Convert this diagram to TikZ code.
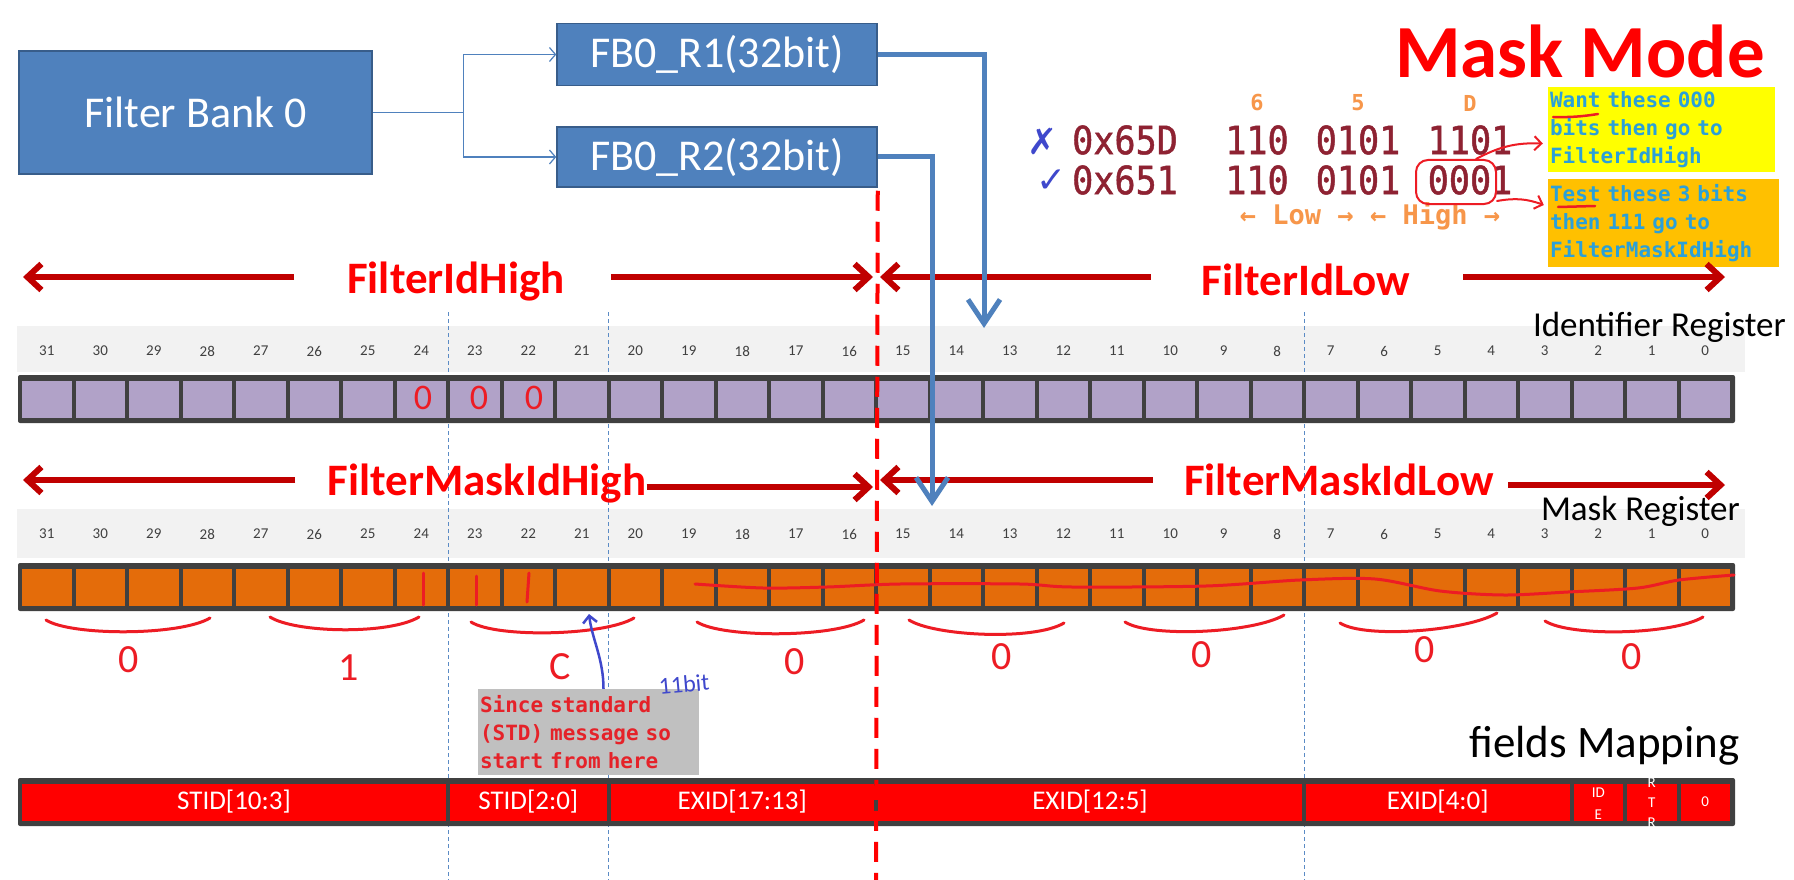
\documentclass[tikz,border=0pt]{standalone}
\usepackage{fontspec}
\setmainfont{Carlito}
\newfontfamily\codefont{DejaVu Sans Mono}
\newfontfamily\hexfont{DejaVu Sans Mono}[FakeStretch=0.9,FakeBold=1.2]
\newfontfamily\signfont{DejaVu Sans}
\usetikzlibrary{calc,arrows.meta,positioning}
\definecolor{bankblue}{HTML}{4F81BD}
\definecolor{bankedge}{HTML}{385D8A}
\definecolor{darkarrow}{HTML}{C00000}
\definecolor{idcell}{HTML}{B1A2C8}
\definecolor{maskcell}{HTML}{E46C0A}
\definecolor{fieldred}{HTML}{FF0000}
\definecolor{framegray}{HTML}{404040}
\definecolor{bandgray}{HTML}{F2F2F2}
\definecolor{bitgray}{HTML}{404040}
\definecolor{hexred}{HTML}{8E2232}
\definecolor{hexorange}{HTML}{F7964A}
\definecolor{tipcyan}{HTML}{2BA0D8}
\definecolor{notered}{HTML}{E52229}
\definecolor{notegray}{HTML}{C0C0C0}
\definecolor{boxyellow}{HTML}{FFFF00}
\definecolor{boxorange}{HTML}{FFC000}
\definecolor{penred}{HTML}{ED1C24}
\definecolor{penblue}{HTML}{3F48CC}
\definecolor{guideblue}{HTML}{5B8BC5}

\begin{document}
\begin{tikzpicture}[x=1pt,y=-1pt,every node/.style={align=center,inner sep=0pt},
  bankbox/.style={draw=bankedge,line width=1.5pt,fill=bankblue,text=white,font=\fontsize{44}{50}\selectfont},
  banklink/.style={draw=bankblue,line width=1.2pt,-{Straight Barb[length=6pt,width=14pt]}},
  regarrow/.style={draw=bankblue,line width=5pt,-{Straight Barb[length=24pt,width=32pt]}},
  spanlabel/.style={text=red,font=\fontsize{45}{50}\selectfont\bfseries,anchor=base},
  spanarrow/.style={draw=darkarrow,line width=6pt,-{Straight Barb[length=14pt,width=26pt]}},
  bitnum/.style={text=bitgray,font=\fontsize{15}{18}\selectfont},
  fieldtext/.style={text=white,font=\fontsize{27}{30}\selectfont},
  rowname/.style={anchor=base east,font=\fontsize{35}{40}\selectfont},
  hexnum/.style={text=hexred,font=\hexfont\fontsize{39}{44}\selectfont},
  hexhint/.style={text=hexorange,font=\codefont\bfseries\fontsize{22}{26}\selectfont},
  tipbox/.style={text=tipcyan,align=left,inner xsep=2pt,font=\codefont\bfseries\fontsize{21}{28}\selectfont},
  pen/.style={draw=penred,line width=3pt,line cap=round},
  inkdigit/.style={text=penred,font=\fontsize{40}{44}\selectfont},
  cutline/.style={draw=red,line width=4pt,dash pattern=on 20pt off 11pt},
  guide/.style={draw=guideblue,line width=0.8pt,dash pattern=on 4pt off 3pt}]
\fill[white] (0,0) rectangle (1794,880);
\useasboundingbox (0,0) rectangle (1794,880);

% filter bank and its two registers
\node[bankbox,minimum width=353pt,minimum height=123pt] (bank) at (195.5,112.5) {Filter Bank 0};
\node[bankbox,minimum width=320pt,minimum height=62pt] (r1) at (717,54.5) {FB0\_R1(32bit)};
\node[bankbox,minimum width=320pt,minimum height=60pt,below=40pt of r1] (r2) {FB0\_R2(32bit)};
\draw[banklink] (bank.east) -- ++(91,0) coordinate (fork) |- (r1.west);
\draw[banklink] (fork) |- (r2.west);

% title and the two ids
\node[anchor=base,text depth=0pt,text=red,font=\fontsize{75}{80}\selectfont\bfseries] (title) at (1580,78) {Mask Mode};
\foreach \x/\d in {1257/6,1358/5,1470/D}
  \node[hexhint] (hint-\d) at (\x,103) {\d};
\node[hexnum] (bad) at (1125,140) {0x65D};
\node[hexnum] (good) at (1125,180) {0x651};
\foreach \x/\g [count=\k] in {1257/110,1358/0101,1470/1101}
  \node[hexnum] (bad-\k) at (\x,140) {\g};
\foreach \x/\g [count=\k] in {1257/110,1358/0101,1470/0001}
  \node[hexnum] (good-\k) at (\x,180) {\g};
\node[text=penblue,font=\signfont\fontsize{36}{36}\selectfont] (badmark) at (1043,141) {✗};
\node[text=penblue,font=\signfont\fontsize{36}{36}\selectfont] (goodmark) at (1052,181) {✓};
\node[hexhint,font=\codefont\bfseries\fontsize{27}{30}\selectfont] (dirs) at (1370,216) {← Low → ← High →};
\node[draw=penred,line width=2pt,rounded corners=12pt,minimum width=80pt,minimum height=44pt] (ring) at (1456,182) {};
\node[tipbox,fill=boxyellow,minimum width=227pt,minimum height=85pt,text width=223pt] (wantbox) at (1661.5,129.5) {Want these 000\\bits then go to\\FilterIdHigh};
\node[tipbox,fill=boxorange,minimum width=231pt,minimum height=88pt,text width=227pt] (testbox) at (1663.5,223) {Test these 3 bits\\then 111 go to\\FilterMaskIdHigh};
\draw[pen,line width=2pt,-{Straight Barb[length=7pt,width=14pt]}] ([xshift=20pt]ring.north) to[bend left=15] ([xshift=-5pt,yshift=-14pt]wantbox.west);
\draw[pen,line width=2pt,-{Straight Barb[length=7pt,width=14pt]}] ([yshift=4pt]ring.south east) to[bend left=15] ([xshift=-4pt,yshift=18pt]testbox.west);
\draw[pen,line width=2.5pt] (1553,117) to[bend right=5] (1598,114);
\draw[pen,line width=2.5pt] (1558,207) -- (1595,206);

% grey bands, guides, registers
\fill[bandgray] (17,326) rectangle (1745,372);
\fill[bandgray] (17,509) rectangle (1745,558);
\foreach \gx in {448,608.5,1304}
  \draw[guide] (\gx,312) -- (\gx,880);
\foreach \ry/\cellfill/\tag/\numy in {375/idcell/id/351,563/maskcell/mask/534}{
  \fill[framegray,rounded corners=2pt] (18,\ry) rectangle (1735,\ry+48);
  \foreach \i in {0,...,31}{
    \pgfmathtruncatemacro\bit{31-\i}
    \fill[\cellfill] ({20+\i*53.5+2},\ry+6) rectangle ({20+\i*53.5+51.5},\ry+43);
    \node[bitnum] (\tag-\bit) at ({20+\i*53.5+26.75},\numy) {\bit};
  }
}
\node[rowname] (idname) at (1786,336) {Identifier Register};
\node[rowname] (maskname) at (1740,520) {Mask Register};

% field mapping bar
\fill[framegray,rounded corners=2pt] (18,778) rectangle (1735,826);
\foreach \a/\b/\txt in {0/8/{STID[10:3]},8/11/{STID[2:0]},11/16/{EXID[17:13]},16/24/{EXID[12:5]},24/29/{EXID[4:0]}}{
  \fill[fieldred] ({20+\a*53.5+2},784) rectangle ({20+\b*53.5-2},821);
  \node[fieldtext] (field-\a) at ({20+(\a+\b)*26.75},802) {\txt};
}
\foreach \a in {29,30,31}
  \fill[fieldred] ({20+\a*53.5+2},784) rectangle ({20+\a*53.5+51.5},821);
\node[fieldtext,font=\fontsize{15}{22}\selectfont] (field-ide) at ({20+29.5*53.5},804) {ID\\E};
\node[fieldtext,font=\fontsize{15}{20}\selectfont] (field-rtr) at ({20+30.5*53.5},803) {R\\T\\R};
\node[fieldtext,font=\fontsize{15}{18}\selectfont] (field-zero) at ({20+31.5*53.5},802) {0};
\node[rowname,font=\fontsize{45}{50}\selectfont] (fieldname) at (1740,757) {fields Mapping};

% span labels and arrows
\node[spanlabel] (fih) at (456,293) {FilterIdHigh};
\node[spanlabel] (fil) at (1306,295) {FilterIdLow};
\node[spanlabel] (fmih) at (487,495) {FilterMaskIdHigh};
\node[spanlabel] (fmil) at (1339,495) {FilterMaskIdLow};
\coordinate (idleft) at (23,277);
\coordinate (idmid) at (873,277);
\coordinate (idmid2) at (880,277);
\coordinate (idright) at (1725,277);
\coordinate (maskleft) at (23,480);
\coordinate (maskmid) at (873,487);
\coordinate (maskmid2) at (880,480);
\coordinate (maskright) at (1725,485);
\draw[spanarrow] ($(fih.base west)+(-53,-16)$) -- (idleft);
\draw[spanarrow] ($(fih.base east)+(46,-16)$) -- (idmid);
\draw[spanarrow] ($(fil.base west)+(-51,-18)$) -- (idmid2);
\draw[spanarrow] ($(fil.base east)+(53,-18)$) -- (idright);
\draw[spanarrow] ($(fmih.base west)+(-32,-15)$) -- (maskleft);
\draw[spanarrow] ($(fmih.base east)+(0,-8)$) -- (maskmid);
\draw[spanarrow] ($(fmil.base west)+(-31,-15)$) -- (maskmid2);
\draw[spanarrow] ($(fmil.base east)+(14,-10)$) -- (maskright);

% pen marks on the registers
\foreach \x [count=\k] in {423,479,534}
  \node[inkdigit,font=\fontsize{36}{36}\selectfont] (zero-\k) at (\x,398) {0};
\draw[pen] (423,573) -- (423,605);
\draw[pen] (476,576) -- (476,605);
\draw[pen] (529,573) -- (527,602);
\draw[pen] plot[smooth] coordinates {(695,584) (763,588) (827,587) (900,584) (1020,584) (1072,587) (1206,586) (1300,580) (1375,579) (1440,591) (1504,595) (1568,592) (1638,588) (1679,580) (1734,575)};
\foreach \xa/\ya/\xb/\yb in {46/620/210/618,270/617/419/617,471/622/634/618,697/622/864/620,909/620/1064/623,1125/622/1284/615,1340/623/1497/613,1545/621/1703/617}
  \draw[pen] (\xa,\ya) .. controls (\xa+25,\ya+16) and (\xb-30,\yb+18) .. (\xb,\yb);
\foreach \x/\y/\d [count=\k] in {129/660/0,349/668/1,560/667/C,795/662/0,1002/657/0,1202/655/0,1425/650/0,1632/657/0}
  \node[inkdigit] (nib-\k) at (\x,\y) {\d};

% note on the standard id
\node[tipbox,text=notered,fill=notegray,minimum width=221pt,minimum height=86pt,text width=217pt] (stdnote) at (588.5,732) {Since standard\\(STD) message so\\start from here};
\coordinate (bitspot) at (589,614);
\draw[draw=penblue,line width=2.5pt,-{Straight Barb[length=7pt,width=14pt]}] ([xshift=15pt]stdnote.north) .. controls +(0,-30) and +(3,25) .. (bitspot);
\node[text=penblue,font=\fontsize{24}{24}\selectfont,rotate=5] (elevenbit) at (684,684) {11bit};

% register pointers and the 16 bit cut
\coordinate (idhit) at (984,328);
\coordinate (maskhit) at (932,506);
\draw[regarrow] (r1.east) -| (idhit);
\draw[regarrow] (r2.east) -| (maskhit);
\coordinate (cutend) at (876,880);
\draw[cutline] ([yshift=-3pt]r2.south east) -- (cutend);
\end{tikzpicture}
\end{document}
